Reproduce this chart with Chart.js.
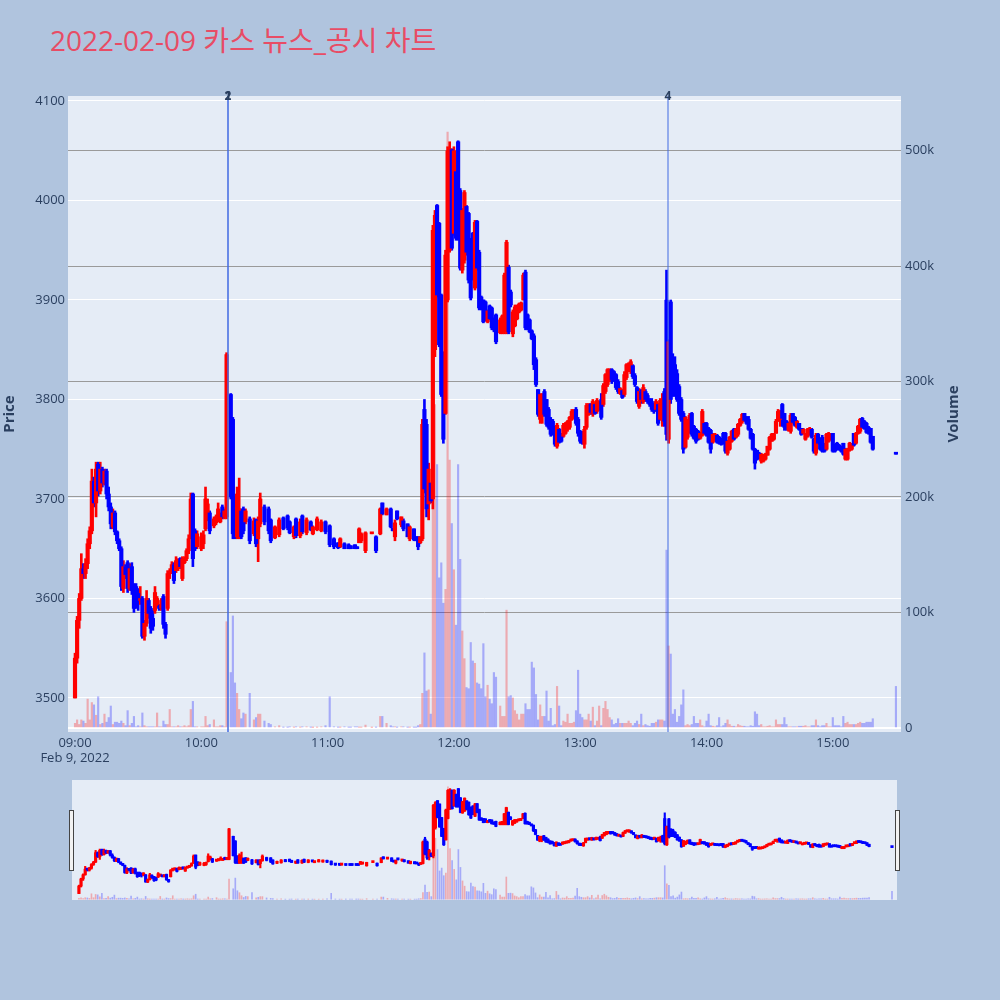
<!DOCTYPE html>
<html>
<head>
<meta charset="utf-8">
<script src="https://cdn.jsdelivr.net/npm/chart.js@4.4.1/dist/chart.umd.min.js"></script>
<style>
  body { margin: 0; width: 1000px; height: 1000px; overflow: hidden; position: relative; background: #b0c4de; }
  #title { position: absolute; left: 50px; top: 26px; font-size: 28px; line-height: 28px; color: #e84c65;
           font-family: "Open Sans", "Noto Sans CJK KR", sans-serif; white-space: nowrap; }
  #main { position: absolute; left: 0; top: 0; }
  #slider { position: absolute; left: 0; top: 780px; }
</style>
</head>
<body>
<div id="title">2022-02-09 카스 뉴스_공시 차트</div>
<canvas id="main" width="1000" height="770"></canvas>
<canvas id="slider" width="1000" height="120"></canvas>
<script>
// minutes after 09:00, one row per candle
const times = [
  0,1,2,3,4,5,6,7,8,9, 10,11,12,13,14,15,16,17,18,19, 20,21,22,23,24,25,26,27,28,29,
  30,31,32,33,34,35,36,37,38,39, 40,41,42,43,44,45,46,47,48,49, 50,51,52,53,54,55,56,57,
  58,60,61,62,63,64,66,67,68,69, 70,71,72,74,75,76,77,78,79,80, 81,83,85,86,87,88,90,92,93,95,
  97,99,101,102,104,105,107,108,110,112, 113,115,117,119,121,123,
  125,126,128,130,131,133,134,135,136,138, 141,143,145,146,148,150,151,152,153,155,
  156,158,159,161,162,163,164,165,
  166,167,168,169,170,171,172,173,174,175, 176,177,178,179,180,181,182,183,184,185,
  186,187,188,189,190,191,192,193,194,195, 196,197,198,199,200,
  202,203,204,205,206, 207,208,209,210,211, 212,213,214,215,216, 217,218,219,220,221, 222,223,224,225,
  226,227,228,229,230,231,232,233,234,235, 236,237,238,239,240,241,242,243,244,245,
  246,247,248,249,250,251,252,253,254,255, 256,257,258,259,260,261,262,263,264,265,
  266,267,268,269,270,271,272,273,274,275, 276,277,278,279,280,281,
  282,283,284,285,286,287,288,289,290,291, 292,293,294,295,296,297,298,299,300,301,
  302,303,304,305,306,307,308,309,310,311, 312,313,314,315,316,317,318,319,320,321,
  322,323,324,325,326,327,328,329,330,331, 332,333,334,335,336,337,338,339,340,341,
  342,343,344,345,346,347,348,349,350,351, 352,353,354,355,356,357,358,359,360,361,
  362,363,364,365,366,367,368,369,370,371, 372,373,374,375,376,377,378,379,
  390
];

const opens = [
  3500,3540,3578,3600,3630,3625,3635,3655,3668,3718, 3696,3735,3708,3730,3716,3728,3705,3692,3672,3686,
  3667,3658,3650,3610,3632,3636,3610,3632,3610,3612, 3605,3598,3600,3562,3575,3598,3590,3580,3588,3594,
  3592,3590,3602,3574,3590,3625,3626,3634,3628,3630, 3640,3620,3636,3640,3648,3662,3705,3668,
  3652,3650,3655,3670,3680,3686,3673,3676,3679,3677, 3692,3682,3682,3805,3780,3700,3662,3665,3688,3690,
  3677,3680,3665,3679,3660,3675,3692,3690,3679,3661, 3664,3681,3683,3677,3662,3680,3663,3683,3666,3677,
  3665,3669,3668,3677,3673,3660,
  3656,3652,3655,3654,3653,3654,3652,3656,3658,3648, 3665,3662,3665,3696,3684,3690,3671,3662,3688,3674,
  3678,3675,3660,3670,3662,3662,3656,3660,
  3790,3775,3695,3716,3700,3850,3995,3977,3905,3846, 3786,3900,3950,4051,3967,4029,4059,4010,3930,3940,
  3994,3987,3960,3967,3912,3979,3948,3903,3900,3898, 3878,3894,3892,3880,3885,
  3867,3868,3868,3870,3933, 3908,3866,3874,3881,3888, 3890,3900,3928,3885,3880, 3869,3864,3840,3810,3780,
  3785,3808,3800,3790,
  3780,3778,3773,3753,3770,3765,3763,3766,3770,3772, 3780,3782,3790,3780,3768,3766,3755,3772,3785,3795,
  3786,3795,3788,3790,3800,3795,3808,3815,3820,3830, 3828,3825,3818,3806,3809,3805,3822,3830,3828,3834,
  3824,3812,3793,3808,3798,3808,3804,3800,3798,3795, 3790,3795,3780,3785,3808,3900,
  3760,3898,3840,3835,3826,3813,3800,3786,3752,3762, 3768,3786,3773,3770,3768,3761,3764,3776,3776,3771,
  3769,3757,3760,3764,3762,3760,3766,3766,3746,3750, 3758,3770,3762,3765,3774,3778,3786,3782,3780,3770,
  3765,3750,3749,3746,3738,3738,3740,3744,3750,3758, 3760,3766,3778,3780,3795,3786,3778,3769,3768,3786,
  3782,3772,3776,3771,3766,3760,3763,3765,3770,3760, 3746,3765,3760,3762,3755,3750,3758,3760,3766,3754,
  3756,3754,3752,3756,3740,3740,3749,3750,3766,3756, 3766,3768,3781,3778,3776,3772,3771,3763,
  3745
];

const highs = [
  3545,3582,3605,3645,3635,3640,3660,3672,3730,3722, 3737,3737,3737,3732,3730,3730,3712,3696,3690,3688,
  3668,3660,3652,3638,3634,3638,3635,3636,3615,3615, 3610,3612,3602,3578,3608,3600,3592,3588,3612,3602,
  3594,3600,3604,3576,3628,3630,3637,3636,3642,3640, 3641,3642,3642,3650,3664,3706,3706,3670,
  3668,3666,3668,3712,3700,3688,3682,3684,3696,3686, 3694,3690,3847,3806,3782,3702,3712,3721,3690,3692,
  3690,3682,3681,3680,3682,3706,3694,3692,3680,3673, 3681,3682,3684,3678,3673,3681,3680,3684,3681,3678,
  3673,3682,3679,3678,3674,3661,
  3656,3661,3656,3655,3653,3654,3652,3671,3666,3667, 3666,3663,3691,3696,3691,3691,3671,3679,3688,3682,
  3680,3675,3673,3670,3662,3662,3662,3780,
  3800,3780,3736,3716,3975,3990,3996,3978,3906,3848, 3950,4054,4059,4052,4054,4030,4060,4012,3992,4010,
  3995,3988,3962,3968,3980,3980,3950,3904,3900,3899, 3890,3895,3893,3882,3886,
  3882,3885,3927,3960,3935, 3910,3890,3895,3895,3897, 3898,3927,3930,3886,3881, 3870,3866,3842,3810,3806,
  3806,3810,3800,3792,
  3782,3780,3773,3776,3771,3766,3776,3777,3779,3783, 3790,3790,3792,3782,3769,3768,3773,3796,3796,3796,
  3800,3796,3801,3798,3806,3816,3826,3831,3831,3831, 3829,3826,3820,3812,3810,3828,3836,3837,3840,3835,
  3826,3813,3811,3810,3815,3810,3806,3801,3801,3796, 3800,3796,3801,3806,3811,3930,
  3860,3900,3846,3843,3830,3815,3802,3788,3783,3780, 3786,3787,3774,3771,3769,3767,3790,3777,3777,3772,
  3770,3766,3766,3765,3763,3761,3767,3767,3759,3763, 3769,3771,3771,3776,3781,3786,3786,3783,3783,3771,
  3766,3751,3749,3747,3746,3745,3746,3753,3763,3766, 3766,3780,3790,3789,3796,3786,3779,3777,3786,3786,
  3783,3779,3776,3771,3771,3766,3771,3772,3771,3761, 3766,3766,3761,3764,3756,3766,3767,3766,3766,3755,
  3757,3755,3753,3756,3751,3751,3757,3756,3766,3767, 3774,3781,3782,3779,3777,3773,3771,3763,
  3745
];

const lows = [
  3500,3535,3570,3598,3620,3620,3630,3650,3665,3692, 3682,3703,3705,3712,3714,3700,3688,3670,3670,3664,
  3655,3648,3608,3606,3620,3606,3608,3604,3586,3590, 3588,3594,3560,3558,3572,3580,3565,3568,3585,3592,
  3588,3588,3570,3560,3588,3620,3625,3615,3626,3628, 3630,3618,3635,3638,3645,3660,3632,3648,
  3650,3648,3650,3668,3678,3665,3671,3674,3677,3676, 3680,3680,3680,3700,3660,3660,3660,3660,3660,3665,
  3675,3655,3663,3652,3637,3672,3674,3665,3656,3660, 3662,3669,3669,3665,3660,3661,3661,3665,3664,3668,
  3664,3668,3667,3665,3652,3650,
  3650,3651,3650,3650,3650,3650,3650,3656,3656,3646, 3665,3646,3664,3684,3684,3671,3668,3658,3679,3672,
  3668,3662,3658,3658,3658,3649,3655,3658,
  3706,3682,3679,3696,3690,3843,3903,3853,3803,3756, 3785,3898,3948,3950,3965,3960,3960,3930,3927,3937,
  3945,3917,3900,3920,3910,3930,3890,3890,3877,3879, 3877,3880,3870,3868,3856,
  3866,3866,3866,3866,3866, 3893,3863,3873,3880,3887, 3889,3900,3870,3870,3867, 3860,3830,3813,3783,3776,
  3776,3783,3773,3770,
  3763,3764,3753,3751,3756,3757,3762,3765,3768,3770, 3779,3781,3774,3763,3756,3755,3751,3770,3784,3785,
  3783,3785,3786,3789,3780,3793,3806,3813,3818,3816, 3818,3810,3806,3805,3801,3803,3820,3828,3826,3821,
  3813,3796,3791,3796,3796,3798,3796,3793,3788,3786, 3788,3774,3779,3773,3773,3759,
  3756,3796,3803,3803,3798,3784,3778,3746,3751,3760, 3766,3763,3760,3756,3759,3760,3763,3765,3763,3756,
  3746,3756,3759,3756,3755,3754,3755,3746,3744,3749, 3757,3759,3761,3763,3773,3776,3778,3775,3769,3760,
  3749,3730,3739,3740,3736,3737,3739,3744,3749,3758, 3759,3766,3778,3773,3773,3769,3769,3768,3766,3776,
  3773,3771,3769,3764,3765,3759,3762,3764,3761,3746, 3744,3755,3749,3747,3747,3749,3757,3759,3747,3747,
  3749,3749,3747,3744,3739,3739,3748,3749,3753,3755, 3765,3766,3771,3770,3766,3765,3756,3749,
  3745
];

const closes = [
  3540,3578,3600,3630,3625,3635,3655,3668,3718,3696, 3730,3708,3730,3716,3728,3705,3692,3675,3686,3667,
  3658,3650,3612,3632,3624,3610,3630,3608,3590,3595, 3598,3600,3562,3575,3600,3585,3570,3572,3606,3600,
  3590,3598,3574,3564,3625,3627,3634,3618,3638,3638, 3632,3640,3640,3648,3660,3700,3640,3650,
  3665,3662,3664,3700,3695,3668,3680,3682,3690,3684, 3682,3688,3845,3702,3665,3662,3705,3690,3662,3668,
  3688,3658,3678,3655,3678,3700,3677,3668,3658,3672, 3679,3670,3671,3666,3672,3663,3677,3667,3679,3669,
  3672,3680,3677,3667,3654,3652,
  3651,3660,3650,3650,3650,3650,3650,3670,3665,3666, 3666,3648,3690,3685,3690,3672,3668,3676,3680,3682,
  3670,3662,3672,3659,3658,3652,3662,3775,
  3710,3690,3730,3698,3970,3985,3905,3855,3805,3760, 3945,4050,4052,3952,4050,3962,3962,3932,3990,4008,
  3948,3920,3902,3922,3978,3932,3892,3891,3878,3880, 3889,3881,3872,3870,3858,
  3880,3884,3925,3958,3868, 3895,3888,3893,3894,3896, 3897,3925,3872,3871,3868, 3861,3835,3815,3785,3805,
  3804,3785,3775,3772,
  3765,3766,3755,3774,3757,3758,3774,3776,3778,3782, 3788,3789,3776,3766,3758,3756,3770,3794,3794,3787,
  3798,3786,3799,3796,3782,3814,3825,3830,3829,3820, 3820,3812,3808,3811,3802,3825,3835,3836,3838,3823,
  3815,3798,3808,3800,3812,3800,3798,3795,3790,3788, 3798,3776,3799,3800,3778,3765,
  3858,3800,3810,3806,3800,3786,3780,3750,3782,3778, 3784,3765,3761,3758,3760,3766,3788,3766,3764,3757,
  3750,3765,3765,3757,3756,3755,3756,3748,3758,3762, 3768,3760,3770,3775,3780,3785,3779,3776,3770,3761,
  3750,3736,3740,3741,3745,3744,3745,3753,3762,3765, 3765,3778,3788,3788,3781,3772,3770,3776,3784,3777,
  3774,3778,3770,3765,3770,3766,3770,3771,3762,3748, 3764,3756,3750,3748,3748,3765,3766,3765,3748,3748,
  3750,3750,3748,3745,3750,3750,3756,3755,3754,3766, 3773,3780,3772,3771,3767,3766,3757,3750,
  3745
];

// volume in thousands of shares
const volumes = [
  4,7,3,7,6,4,25,7,22,20, 11,27,3,4,12,5,9,19,3,5, 5,4,6,4,2,15,2,4,10,1,
  2,1,13,2,1,1,1,1,1,13, 1,1,6,3,3,16,1,1,1,2, 1,1,2,1,2,16,23,1,
  1,1,1,10,2,3,7,1,1,2, 2,1,92,48,97,39,30,16,8,13, 12,30,7,9,12,12,6,4,3,1,
  2,0.5,0.5,1,0.5,1,0.5,1,1,0.5, 0.3,0.5,1,2,27,1,
  0.5,0.5,1,0.5,0.5,1,1,0.5,0.5,2.5, 0.3,0.5,10,10,4,2,1,1,0.5,1, 1,0.5,0.5,0.5,0.5,2,3,30,
  65,32,33,12,300,280,228,130,143,108, 120,516,232,177,137,89,228,146,84,60,
  35,34,74,58,56,39,38,34,73,27, 37,25,21,48,44,
  19,10,10,102,27, 28,26,15,12,7, 12,12,21,16,16, 57,52,29,7,20, 10,10,32,6,
  17,2,3,36,19,2,6,5,12,4, 4,5,15,50,12,9,7,7,12,6, 18,2,6,19,2,17,23,16,9,7,
  3,4,8,4,4,4,4,6,4,2, 4,6,3,12,2,3,2,1.5,4,4, 5,7,7,7,6,154,
  71,64,12,16,5,10,20,33,2,3, 2,3,10,4,4,7,2,1,6,12, 2,1.5,1,2,9,1,2,4,7,3,
  1.5,1.5,1,3,2,1.5,1.5,1,1,2, 1.5,14,12,2,3,1,1,1.5,2,1, 1,7,3,3,3,9,3,1,1,1,
  1,1,1.5,1.5,1.5,2,1,1,2,2, 7,2,1,2,2,4,1,1,9,2, 2,2,1,10,4,5,3,3,3,3,
  4,5,4,4,5,5,5,8,
  36
];

const hourTicks = [0, 60, 120, 180, 240, 300, 360];
const hourLabels = ['09:00', '10:00', '11:00', '12:00', '13:00', '14:00', '15:00'];
const dateLabel = 'Feb 9, 2022';
const priceTicks = [3500, 3600, 3700, 3800, 3900, 4000, 4100];
const volumeTicks = [0, 100, 200, 300, 400, 500];

// news markers (minutes after 09:00)
const newsTimes = [72.7, 72.7, 281.7];
const newsLabels = ['1', '2', '4'];

const RED = '#ff0000';
const BLUE = '#0000ff';
const FONT = '"Open Sans", "DejaVu Sans", sans-serif';
const TEXT = '#2a3f5f';
Chart.defaults.font.family = FONT;

const up = closes.map((c, i) => c > opens[i]);
const candleColors = up.map(u => u ? RED : BLUE);
const volColors = up.map(u => u ? 'rgba(255,0,0,0.28)' : 'rgba(0,0,255,0.28)');

function makeDatasets(bodyW, wickW, volW) {
    return [
        {
            data: times.map((t, i) => ({x: t, y: volumes[i]})),
            yAxisID: 'y2',
            backgroundColor: volColors,
            barThickness: volW,
            grouped: false,
            order: 3
        },
        {
            data: times.map((t, i) => ({x: t, y: [lows[i], highs[i]]})),
            yAxisID: 'y',
            backgroundColor: candleColors,
            barThickness: wickW,
            grouped: false,
            order: 2
        },
        {
            data: times.map((t, i) => ({x: t, y: [opens[i], closes[i]]})),
            yAxisID: 'y',
            backgroundColor: candleColors,
            barThickness: bodyW,
            minBarLength: 2,
            grouped: false,
            order: 1
        }
    ];
}

const plotBg = {
    id: 'plotBg',
    beforeDraw(chart) {
        const {ctx, chartArea: a} = chart;
        ctx.save();
        ctx.fillStyle = '#e5ecf6';
        ctx.fillRect(a.left, a.top, a.right - a.left, a.bottom - a.top);
        ctx.restore();
    }
};

const newsMarks = {
    id: 'newsMarks',
    afterDatasetsDraw(chart) {
        const {ctx, chartArea: a, scales: {x}} = chart;
        ctx.save();
        ctx.strokeStyle = 'rgba(65,105,225,0.5)';
        ctx.lineWidth = 2;
        newsTimes.forEach(t => {
            const px = Math.round(x.getPixelForValue(t));
            ctx.beginPath();
            ctx.moveTo(px, a.top);
            ctx.lineTo(px, a.bottom);
            ctx.stroke();
        });
        ctx.fillStyle = TEXT;
        ctx.font = 'bold 12px ' + FONT;
        ctx.textAlign = 'center';
        ctx.textBaseline = 'middle';
        newsTimes.forEach((t, i) => {
            ctx.fillText(newsLabels[i], Math.round(x.getPixelForValue(t)), a.top + 1);
        });
        ctx.restore();
    }
};

const axisTitles = {
    id: 'axisTitles',
    afterDraw(chart) {
        const {ctx, chartArea: a} = chart;
        const mid = (a.top + a.bottom) / 2;
        ctx.save();
        ctx.fillStyle = TEXT;
        ctx.font = 'bold 15px ' + FONT;
        ctx.textAlign = 'center';
        ctx.textBaseline = 'middle';
        [[10, 'Price'], [954, 'Volume']].forEach(([px, txt]) => {
            ctx.save();
            ctx.translate(px, mid);
            ctx.rotate(-Math.PI / 2);
            ctx.fillText(txt, 0, 0);
            ctx.restore();
        });
        ctx.restore();
    }
};

const tickFont = {size: 13, family: FONT};

new Chart(document.getElementById('main'), {
    type: 'bar',
    data: {datasets: makeDatasets(3.5, 2, 1.5)},
    options: {
        responsive: false,
        animation: false,
        layout: {padding: {top: 96, left: 0, right: 0, bottom: 0}},
        plugins: {legend: {display: false}, tooltip: {enabled: false}},
        scales: {
            x: {
                type: 'linear',
                min: -3.33,
                max: 392.4,
                offset: false,
                grid: {display: false, drawTicks: false},
                border: {display: false},
                afterBuildTicks: s => { s.ticks = hourTicks.map(v => ({value: v})); },
                afterFit: s => { s.height = 38; },
                ticks: {
                    autoSkip: false,
                    maxRotation: 0,
                    padding: 3,
                    color: TEXT,
                    font: tickFont,
                    callback: v => {
                        const i = hourTicks.indexOf(v);
                        return i === 0 ? [hourLabels[0], dateLabel] : hourLabels[i];
                    }
                }
            },
            y: {
                position: 'left',
                min: 3465.8,
                max: 4105,
                grid: {color: '#ffffff', lineWidth: 1, drawTicks: false},
                border: {display: false},
                afterBuildTicks: s => { s.ticks = priceTicks.map(v => ({value: v})); },
                afterFit: s => { s.width = 68; },
                ticks: {padding: 3, color: TEXT, font: tickFont, callback: v => String(v)}
            },
            y2: {
                position: 'right',
                min: -3.5,
                max: 547.2,
                grid: {
                    color: c => c.tick && c.tick.value === 0 ? '#ffffff' : '#9a9a9a',
                    lineWidth: c => c.tick && c.tick.value === 0 ? 2 : 1,
                    drawTicks: false
                },
                border: {display: false},
                afterBuildTicks: s => { s.ticks = volumeTicks.map(v => ({value: v})); },
                afterFit: s => { s.width = 99; },
                ticks: {
                    padding: 4,
                    color: TEXT,
                    font: tickFont,
                    callback: v => v === 0 ? '0' : v + 'k'
                }
            }
        }
    },
    plugins: [plotBg, newsMarks, axisTitles]
});

const sliderHandles = {
    id: 'sliderHandles',
    afterDraw(chart) {
        const {ctx, chartArea: a} = chart;
        ctx.save();
        ctx.fillStyle = '#f2f2f2';
        ctx.strokeStyle = '#444444';
        ctx.lineWidth = 1;
        [a.left - 2.5, a.right - 1.5].forEach(hx => {
            ctx.fillRect(hx, 30.5, 4, 60);
            ctx.strokeRect(hx, 30.5, 4, 60);
        });
        ctx.restore();
    }
};

// range slider: same axis ranges as the main plot
new Chart(document.getElementById('slider'), {
    type: 'bar',
    data: {datasets: makeDatasets(2.5, 1.5, 1)},
    options: {
        responsive: false,
        animation: false,
        layout: {padding: {top: 0, left: 72, right: 103, bottom: 0}},
        plugins: {legend: {display: false}, tooltip: {enabled: false}},
        scales: {
            x: {type: 'linear', display: false, min: -3.33, max: 392.4, offset: false},
            y: {display: false, min: 3465.8, max: 4105},
            y2: {display: false, min: -3.5, max: 547.2}
        }
    },
    plugins: [plotBg, sliderHandles]
});
</script>
</body>
</html>
